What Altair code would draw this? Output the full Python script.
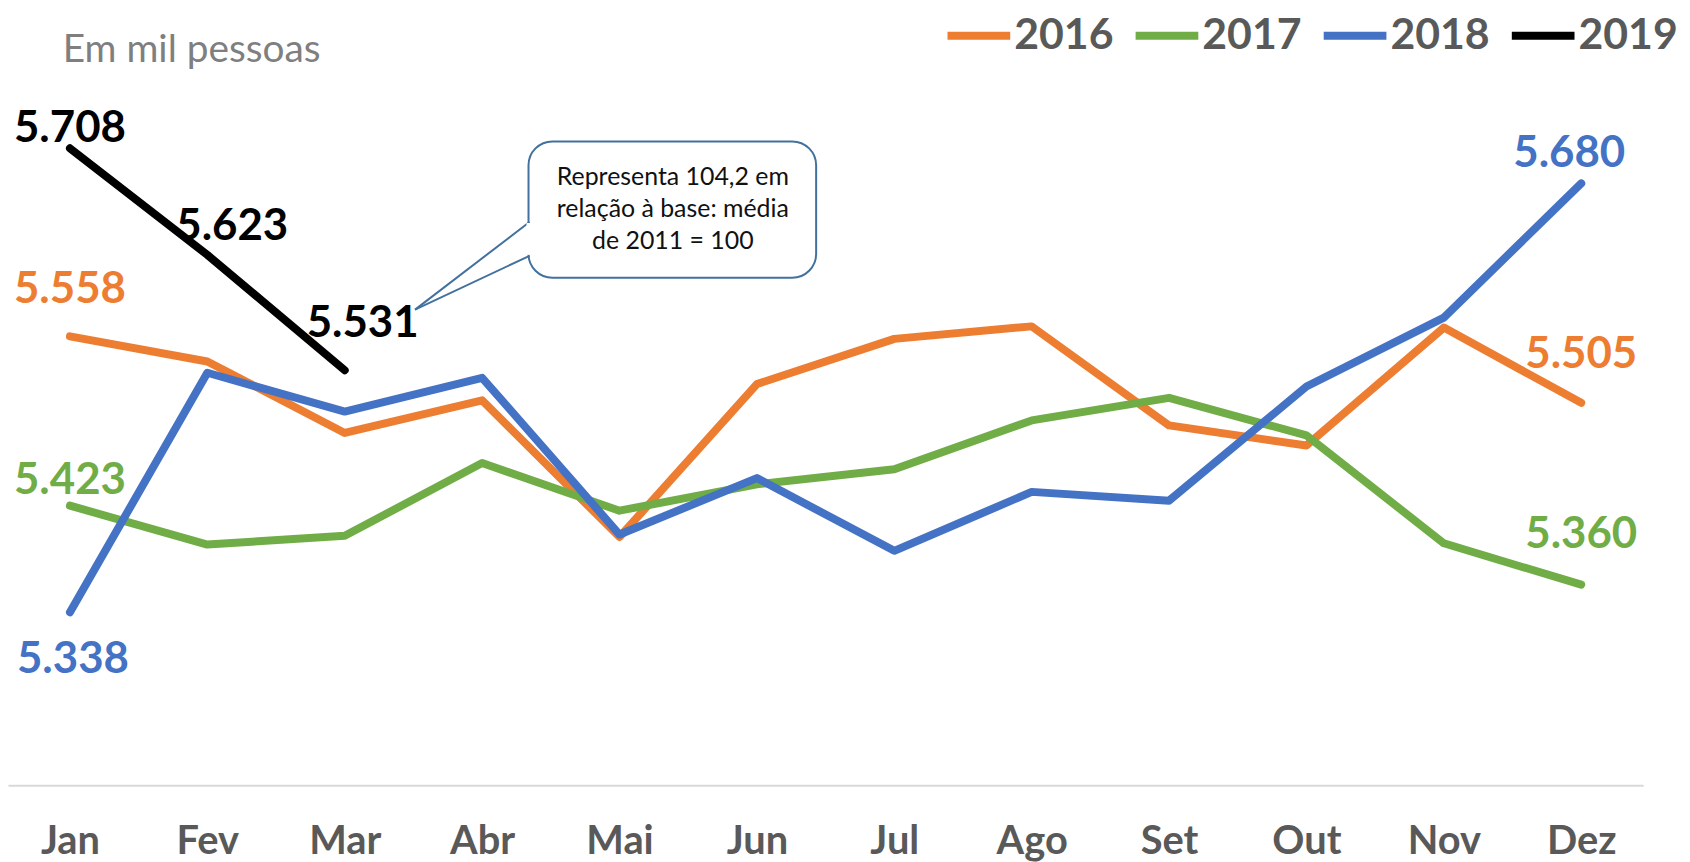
import altair as alt
import pandas as pd

months = ["Jan", "Fev", "Mar", "Abr", "Mai", "Jun", "Jul", "Ago", "Set", "Out", "Nov", "Dez"]
years = ["2016", "2017", "2018", "2019"]
v2016 = [5.558, 5.538, 5.481, 5.507, 5.398, 5.520, 5.556, 5.566, 5.487, 5.471, 5.565, 5.505]
v2017 = [5.423, 5.392, 5.399, 5.457, 5.419, 5.440, 5.452, 5.491, 5.509, 5.479, 5.393, 5.360]
v2018 = [5.338, 5.529, 5.498, 5.525, 5.400, 5.445, 5.387, 5.434, 5.427, 5.518, 5.573, 5.680]
v2019 = [5.708, 5.623, 5.531]
colors = ["#ED7D31", "#70AD47", "#4472C4", "#000000"]

subtitle = "Em mil pessoas"
callout = "Representa 104,2 em\nrelação à base: média\nde 2011 = 100"

rows = []
for yr, vals in zip(years, [v2016, v2017, v2018, v2019]):
    for m, v in zip(months, vals):
        rows.append({"year": yr, "month": m, "value": v})
df = pd.DataFrame(rows)

FONT = "Lato"
x_enc = alt.X("month:N", sort=months,
              scale=alt.Scale(type="point", padding=0.451),
              axis=alt.Axis(title=None, labelAngle=0, ticks=False, domainColor="#D9D9D9",
                            domainWidth=2, labelFont=FONT, labelFontWeight="bold",
                            labelFontSize=40, labelColor="#595959", labelPadding=37,
                            grid=False))
y_enc = alt.Y("value:Q", scale=alt.Scale(domain=[5.2, 5.8], zero=False, nice=False),
              axis=None)

base = alt.Chart(df)

lines = base.mark_line(strokeWidth=8, strokeCap="round", strokeJoin="round").encode(
    x=x_enc, y=y_enc,
    color=alt.Color("year:N", scale=alt.Scale(domain=years, range=colors),
                    legend=alt.Legend(orient="none", legendX=940, legendY=-33,
                                      direction="horizontal", title=None,
                                      symbolType="stroke", symbolSize=3969,
                                      symbolStrokeWidth=8, labelFont=FONT,
                                      labelFontWeight="bold", labelFontSize=43,
                                      labelColor="#595959", labelOffset=0,
                                      columnPadding=6, padding=0)),
    order=alt.Order("year:N"),
)

def label(year, month, dx, dy):
    col = colors[years.index(year)]
    return base.transform_filter(
        (alt.datum.year == year) & (alt.datum.month == month)
    ).mark_text(dx=dx, dy=dy, font=FONT, fontWeight="bold", fontSize=44,
                baseline="middle", align="center", color=col).encode(
        x=x_enc, y=y_enc, text=alt.Text("value:Q", format=".3f"))

labels = [
    label("2019", "Jan", 0, -19),
    label("2019", "Fev", 25, -28),
    label("2019", "Mar", 18, -46),
    label("2016", "Jan", 0, -47),
    label("2017", "Jan", 0, -25),
    label("2018", "Jan", 3, 48),
    label("2018", "Dez", -12, -29),
    label("2016", "Dez", 0, -48),
    label("2017", "Dez", 0, -50),
]

title_df = pd.DataFrame({"t": [subtitle]})
title_txt = alt.Chart(title_df).mark_text(font=FONT, fontSize=39, color="#7F7F7F",
                                         align="left", baseline="middle").encode(
    x=alt.value(55), y=alt.value(17), text="t:N")

box = alt.Chart(title_df).mark_rect(fill="white", stroke="#41719C", strokeWidth=2,
                                    cornerRadius=24).encode(
    x=alt.value(523), x2=alt.value(812), y=alt.value(109), y2=alt.value(246))
ptr1 = alt.Chart(title_df).mark_rule(stroke="#41719C", strokeWidth=2).encode(
    x=alt.value(524), y=alt.value(190), x2=alt.value(409), y2=alt.value(278))
ptr2 = alt.Chart(title_df).mark_rule(stroke="#41719C", strokeWidth=2).encode(
    x=alt.value(524), y=alt.value(224), x2=alt.value(409), y2=alt.value(278))
cover = alt.Chart(title_df).mark_rule(stroke="white", strokeWidth=4).encode(
    x=alt.value(523), y=alt.value(191), x2=alt.value(523), y2=alt.value(223))
call_df = pd.DataFrame({"t": [callout]})
call_txt = alt.Chart(call_df).mark_text(font=FONT, fontSize=25, color="#111111",
                                        align="center", baseline="top", lineBreak="\n",
                                        lineHeight=32).encode(
    x=alt.value(668), y=alt.value(133), text="t:N")

chart = alt.layer(lines, *labels, title_txt, box, ptr1, ptr2, cover, call_txt).properties(
    width=1643, height=756,
    autosize=alt.AutoSizeParams(type="none"),
    padding={"left": 0, "top": 23, "right": 39, "bottom": 75},
).configure_view(stroke=None)

chart.save("out.html", embed_options={"renderer": "svg", "actions": False})
